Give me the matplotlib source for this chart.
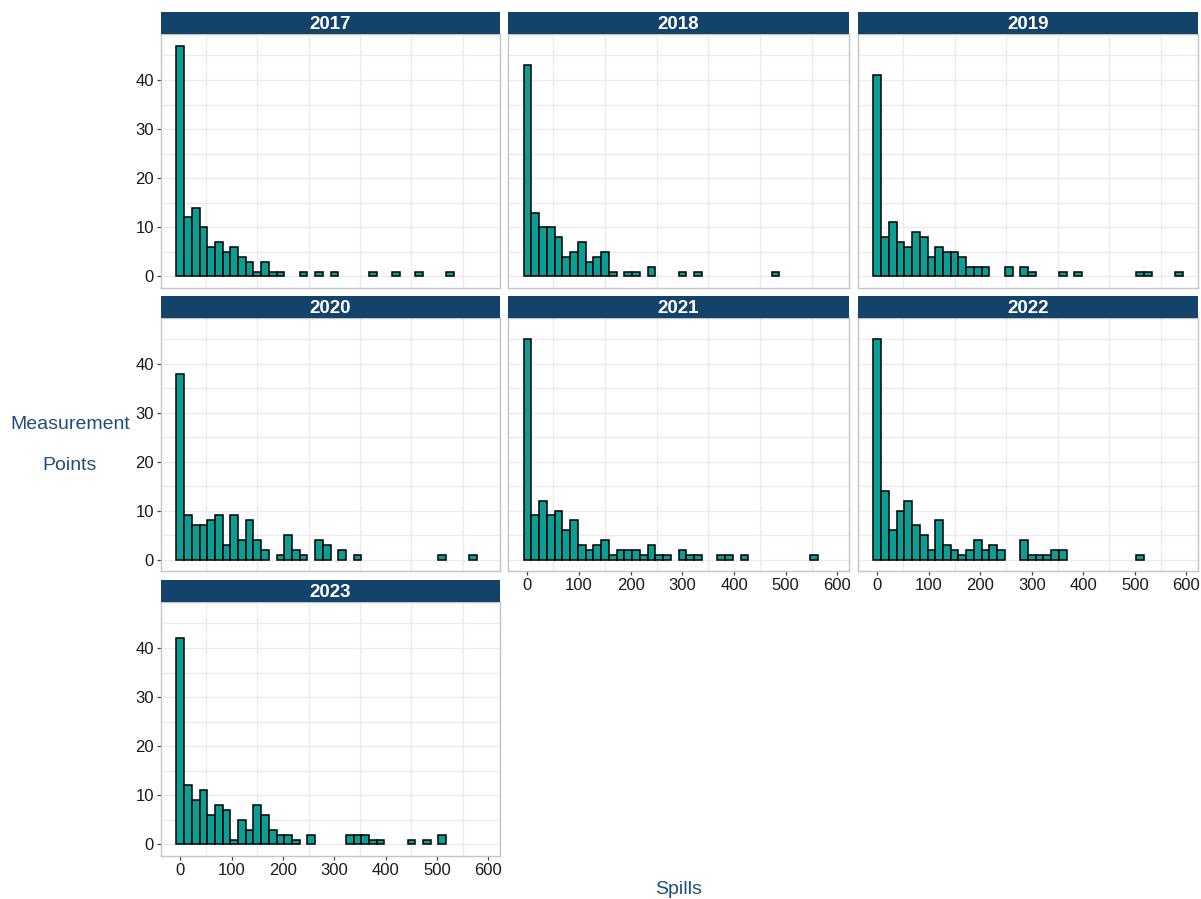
import numpy as np
import matplotlib
matplotlib.use("Agg")
import matplotlib.pyplot as plt

plt.rcParams["font.family"] = ["Liberation Sans", "DejaVu Sans"]

# histogram bins (width 15, centred on multiples of 15)
BIN_WIDTH = 15
BIN_CENTERS = [0, 15, 30, 45, 60, 75, 90, 105, 120, 135,
               150, 165, 180, 195, 210, 225, 240, 255, 270, 285,
               300, 315, 330, 345, 360, 375, 390, 405, 420, 435,
               450, 465, 480, 495, 510, 525, 540, 555, 570, 585]

YEARS = ["2017", "2018", "2019", "2020", "2021", "2022", "2023"]

counts_2017 = [47, 12, 14, 10, 6, 7, 5, 6, 4, 3, 1, 3, 1, 1, 0, 0, 1, 0, 1, 0,
               1, 0, 0, 0, 0, 1, 0, 0, 1, 0, 0, 1, 0, 0, 0, 1, 0, 0, 0, 0]
counts_2018 = [43, 13, 10, 10, 8, 4, 5, 7, 3, 4, 5, 1, 0, 1, 1, 0, 2, 0, 0, 0,
               1, 0, 1, 0, 0, 0, 0, 0, 0, 0, 0, 0, 1, 0, 0, 0, 0, 0, 0, 0]
counts_2019 = [41, 8, 11, 7, 6, 9, 8, 4, 6, 5, 5, 4, 2, 2, 2, 0, 0, 2, 0, 2,
               1, 0, 0, 0, 1, 0, 1, 0, 0, 0, 0, 0, 0, 0, 1, 1, 0, 0, 0, 1]
counts_2020 = [38, 9, 7, 7, 8, 9, 3, 9, 4, 8, 4, 2, 0, 1, 5, 2, 1, 0, 4, 3,
               0, 2, 0, 1, 0, 0, 0, 0, 0, 0, 0, 0, 0, 0, 1, 0, 0, 0, 1, 0]
counts_2021 = [45, 9, 12, 9, 10, 6, 8, 3, 2, 3, 4, 1, 2, 2, 2, 1, 3, 1, 1, 0,
               2, 1, 1, 0, 0, 1, 1, 0, 1, 0, 0, 0, 0, 0, 0, 0, 0, 1, 0, 0]
counts_2022 = [45, 14, 6, 10, 12, 7, 5, 2, 8, 3, 2, 1, 2, 4, 2, 3, 2, 0, 0, 4,
               1, 1, 1, 2, 2, 0, 0, 0, 0, 0, 0, 0, 0, 0, 1, 0, 0, 0, 0, 0]
counts_2023 = [42, 12, 9, 11, 6, 8, 7, 1, 5, 3, 8, 6, 3, 2, 2, 1, 0, 2, 0, 0,
               0, 0, 2, 2, 2, 1, 1, 0, 0, 0, 1, 0, 1, 0, 2, 0, 0, 0, 0, 0]

COUNTS = [counts_2017, counts_2018, counts_2019, counts_2020,
          counts_2021, counts_2022, counts_2023]

X_TICKS = [0, 100, 200, 300, 400, 500, 600]
Y_TICKS = [0, 10, 20, 30, 40]

STRIP = "#13426b"
TITLE = "#1f4f7d"
FILL = "#0a9e94"

W, H = 1201, 899
fig = plt.figure(figsize=(W / 100, H / 100), dpi=100)

# panel pixel boxes: columns (left, right), rows (strip top, panel top, panel bottom)
cols = [(161, 500), (508, 849), (858, 1198)]
rows = [(12, 34, 288), (296, 318, 571), (580, 602, 856)]

for i, (year, counts) in enumerate(zip(YEARS, COUNTS)):
    r, c = divmod(i, 3)
    x0, x1 = cols[c]
    st, pt, pb = rows[r]
    ax = fig.add_axes([x0 / W, 1 - pb / H, (x1 - x0) / W, (pb - pt) / H])

    centers = np.array(BIN_CENTERS)
    vals = np.array(counts)
    keep = vals > 0
    ax.bar(centers[keep], vals[keep], width=BIN_WIDTH, color=FILL,
           edgecolor="black", linewidth=1.1, zorder=3)

    ax.set_xlim(-37.5, 622.5)
    ax.set_ylim(-2.35, 49.35)
    for yv in range(0, 50, 5):
        ax.axhline(yv, color="#ebebeb", lw=1.0, zorder=0)
    for xv in range(50, 600, 100):
        ax.axvline(xv, color="#ebebeb", lw=1.0, zorder=0)

    for s in ax.spines.values():
        s.set_color("#c4c4c4")
        s.set_linewidth(1.0)

    ax.set_xticks(X_TICKS)
    ax.set_yticks(Y_TICKS)
    ax.tick_params(length=3, width=0.9, color="#444444", labelsize=12,
                   labelcolor="#1a1a1a", pad=2)
    show_x = (r == 2) or (r == 1 and c > 0)
    show_y = c == 0
    if not show_x:
        ax.tick_params(axis="x", length=0, labelbottom=False)
    if not show_y:
        ax.tick_params(axis="y", length=0, labelleft=False)

    # facet strip
    sax = fig.add_axes([x0 / W, 1 - pt / H, (x1 - x0) / W, (pt - st) / H])
    sax.set_facecolor(STRIP)
    sax.set_xticks([])
    sax.set_yticks([])
    for s in sax.spines.values():
        s.set_visible(False)
    sax.text(0.5, 0.45, year, ha="center", va="center", color="white",
             fontsize=13.5, fontweight="bold", transform=sax.transAxes)

fig.text(679 / W, 1 - 889 / H, "Spills", ha="center", va="center",
         color=TITLE, fontsize=14)
fig.text(70 / W, 1 - 445 / H, "Measurement\nPoints", ha="center", va="center",
         color=TITLE, fontsize=14, linespacing=2.9)

fig.savefig("out.png", dpi=100)
